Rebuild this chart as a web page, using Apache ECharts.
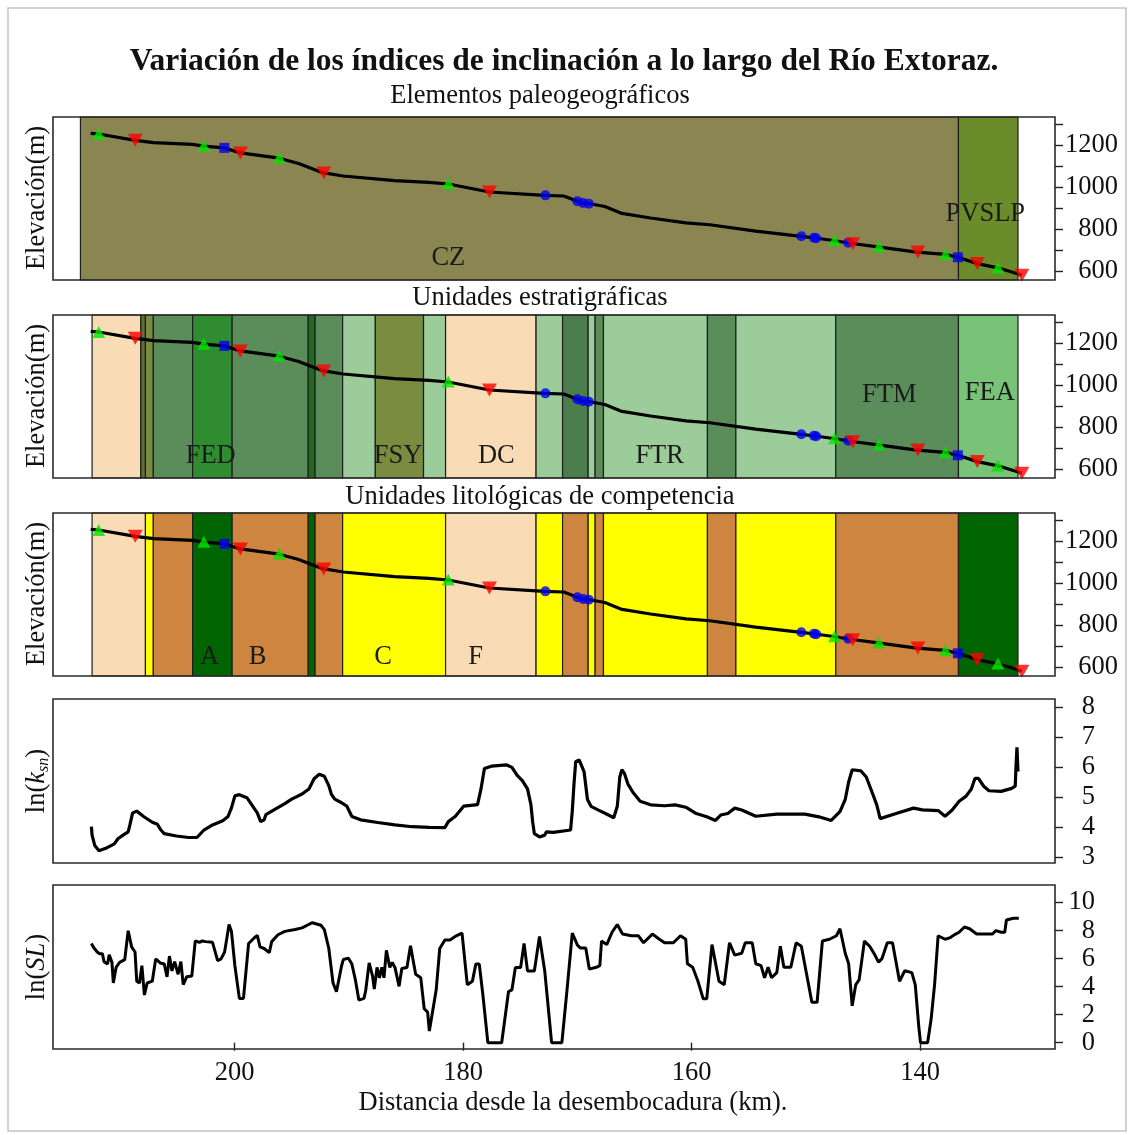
<!DOCTYPE html>
<html><head><meta charset="utf-8">
<script src="https://cdn.jsdelivr.net/npm/echarts@6.0.0/dist/echarts.min.js"></script>
<style>html,body{margin:0;padding:0;background:#fff}#c{width:1130px;height:1135px}</style>
</head><body><div id="c"></div>
<script>
// ---------- DATA ----------
const xTicks = [200, 180, 160, 140];
const elevTicks = [600, 700, 800, 900, 1000, 1100, 1200, 1300];
const elevLabels = [600, 800, 1000, 1200];
const ksnTicks = [3, 4, 5, 6, 7, 8];
const slTicks = [0, 2, 4, 6, 8, 10];

// river long profile [km, elevation m]
const profile = [
 [212.6,1255],[211.9,1252],[208.7,1222],[207.1,1211],[203.7,1203],[202.7,1194],[200.9,1186],
 [199.5,1162],[196.1,1137],[194.4,1112],[192.3,1068],[190.5,1052],[186.0,1030],[183.0,1022],
 [181.3,1014],[177.7,976],[172.9,960],[171.2,957],[170.0,932],[169.7,924],[168.8,919],
 [167.6,907],[166.1,874],[163.6,852],[160.5,829],[158.4,820],[154.4,790],[150.4,765],
 [149.2,757],[147.6,745],[146.1,732],[143.7,715],[140.3,690],[137.8,679],[136.7,665],
 [135.0,635],[133.2,615],[131.7,590],[131.1,581]
];
// knickpoint markers [km, elevation m]
const greenUp = [[211.9,1252],[202.7,1196],[196.1,1140],[181.3,1016],[147.5,746],[143.6,716],[137.8,680],[133.2,616]];
const redDown = [[208.7,1222],[199.5,1162],[192.2,1066],[177.7,976],[145.9,730],[140.2,690],[135.0,635],[131.1,580]];
const blueCircle = [[172.8,960],[170.0,932],[169.5,924],[169.0,920],[150.4,765],[149.3,758],[149.1,756],[146.3,734]];
const blueSquare = [[200.9,1186],[136.7,665]];

// ln(ksn) [km, value]
const ksn = [
 [212.54,4.01],[212.48,3.73],[212.24,3.38],[211.88,3.21],[211.28,3.29],[210.53,3.44],[210.22,3.61],[209.77,3.73],
 [209.32,3.84],[209.17,4.07],[208.93,4.47],[208.57,4.53],[207.97,4.35],[207.21,4.16],[206.76,4.09],[206.46,3.90],
 [206.16,3.78],[205.10,3.70],[204.05,3.65],[203.30,3.65],[202.69,3.90],[201.94,4.07],[201.04,4.21],[200.58,4.35],
 [200.28,4.64],[199.98,5.04],[199.59,5.08],[198.93,4.98],[198.32,4.64],[198.02,4.47],[197.72,4.18],[197.42,4.24],
 [197.27,4.41],[196.52,4.58],[195.61,4.78],[195.01,4.93],[194.10,5.10],[193.50,5.27],[193.05,5.61],[192.60,5.76],
 [192.15,5.69],[191.76,5.38],[191.54,5.10],[191.24,4.93],[190.64,4.81],[190.19,4.70],[189.74,4.35],[188.98,4.24],
 [187.48,4.15],[185.97,4.07],[184.47,4.01],[182.96,3.99],[181.60,3.98],[181.30,4.18],[180.70,4.35],[179.94,4.70],
 [178.74,4.75],[178.44,5.27],[178.29,5.61],[178.14,5.95],[177.53,6.03],[176.18,6.07],[175.73,5.99],[175.27,5.72],
 [174.82,5.55],[174.37,5.27],[174.07,4.75],[173.92,4.18],[173.77,3.78],[173.32,3.67],[172.86,3.73],[172.71,3.84],
 [172.11,3.82],[170.60,3.90],[170.45,4.53],[170.30,5.44],[170.15,6.18],[169.85,6.24],[169.42,5.85],[169.12,4.92],
 [168.81,4.69],[168.20,4.57],[167.28,4.40],[166.82,4.31],[166.51,4.69],[166.29,5.67],[166.11,5.91],[165.89,5.79],
 [165.59,5.44],[165.13,5.15],[164.51,4.86],[163.59,4.74],[162.37,4.71],[161.45,4.74],[160.52,4.66],[159.60,4.45],
 [158.68,4.34],[157.92,4.22],[157.46,4.40],[156.84,4.45],[156.23,4.63],[155.62,4.57],[154.39,4.36],[152.55,4.43],
 [150.09,4.43],[148.86,4.34],[147.79,4.22],[147.02,4.51],[146.56,4.92],[146.26,5.50],[145.95,5.91],[145.18,5.87],
 [144.72,5.67],[144.26,5.21],[143.80,4.74],[143.50,4.28],[142.11,4.45],[140.58,4.63],[139.81,4.57],[138.43,4.55],
 [137.82,4.36],[137.20,4.57],[136.59,4.86],[135.98,5.03],[135.52,5.27],[135.21,5.62],[134.90,5.62],[134.44,5.36],
 [133.98,5.21],[132.91,5.19],[131.99,5.29],[131.68,5.36],[131.62,5.97],[131.53,6.66],[131.44,5.85]
];

// ln(SL) [km, value]
const sl = [
 [212.54,7.08],[212.33,6.77],[212.03,6.47],[211.82,6.35],[211.58,6.35],[211.43,5.78],[211.13,5.61],[210.98,6.27],
 [210.74,5.73],[210.62,4.26],[210.38,5.37],[210.07,5.73],[209.62,5.93],[209.32,7.99],[209.02,6.84],[208.72,6.47],
 [208.57,4.39],[208.33,4.26],[208.12,5.49],[207.90,3.40],[207.66,4.26],[207.21,4.39],[206.91,5.98],[206.52,5.69],
 [206.16,5.61],[205.92,4.70],[205.71,6.18],[205.49,5.12],[205.25,5.78],[204.95,4.88],[204.71,5.78],[204.50,4.14],
 [204.20,4.70],[203.75,4.75],[203.45,7.26],[203.08,7.16],[202.84,7.26],[202.54,7.21],[201.94,7.16],[201.49,5.86],
 [201.19,5.98],[200.88,6.47],[200.49,8.43],[200.28,7.94],[199.98,5.49],[199.59,3.16],[199.23,3.16],[198.78,7.08],
 [198.32,7.45],[198.02,7.65],[197.78,6.84],[197.42,6.72],[196.97,6.42],[196.76,7.21],[196.21,7.70],[195.61,7.94],
 [194.71,8.07],[194.10,8.19],[193.65,8.38],[193.20,8.56],[192.45,8.38],[192.15,8.07],[191.76,6.72],[191.39,4.26],
 [191.09,3.64],[190.64,5.49],[190.49,5.93],[190.04,6.03],[189.74,5.61],[189.44,4.51],[189.13,3.04],[188.68,3.16],
 [188.53,3.72],[188.23,5.69],[187.93,4.75],[187.78,3.82],[187.54,5.37],[187.33,4.63],[187.12,5.37],[186.93,4.63],
 [186.72,6.59],[186.42,5.37],[186.21,5.73],[185.97,5.37],[185.61,4.02],[185.37,5.29],[184.92,5.37],[184.61,6.91],
 [184.16,4.88],[183.71,4.63],[183.41,2.42],[183.11,2.18],[182.96,0.83],[182.66,2.30],[182.36,3.77],[182.05,6.72],
 [181.60,7.33],[181.15,7.33],[180.70,7.58],[180.10,7.82],[179.64,4.14],[179.19,4.39],[178.89,5.61],[178.59,5.61],
 [178.29,3.53],[177.84,0],[176.63,0],[176.03,3.65],[175.73,3.77],[175.43,5.37],[174.97,5.37],[174.67,7.08],
 [174.37,5.12],[173.77,5.12],[173.32,7.58],[172.86,5.12],[172.26,0],[171.36,0],[170.91,3.77],[170.45,7.82],
 [170.00,6.96],[169.73,6.75],[169.27,6.75],[168.96,5.25],[168.35,5.38],[168.04,5.50],[167.89,7.25],[167.43,7.00],
 [166.97,7.88],[166.51,8.43],[166.05,7.75],[165.28,7.63],[164.67,7.63],[164.21,7.13],[163.44,7.75],[162.83,7.38],
 [162.37,7.13],[161.60,7.13],[160.98,7.63],[160.52,7.38],[160.37,5.63],[159.91,5.38],[159.45,4.38],[158.99,3.13],
 [158.68,3.13],[158.22,7.00],[157.61,4.38],[157.15,4.13],[156.69,7.13],[156.23,6.25],[155.62,6.38],[155.31,7.13],
 [154.70,7.13],[154.39,5.63],[153.93,5.50],[153.62,4.63],[153.31,5.38],[153.01,4.63],[152.55,5.00],[152.24,6.88],
 [151.93,5.38],[151.32,5.38],[150.86,7.13],[150.40,6.88],[149.94,4.88],[149.48,2.88],[149.02,2.88],[148.56,7.25],
 [147.94,7.38],[147.33,7.63],[147.02,8.13],[146.56,6.38],[146.26,5.63],[145.95,2.63],[145.64,4.13],[145.34,4.50],
 [144.88,7.25],[144.42,6.88],[143.96,6.25],[143.65,5.75],[143.34,6.00],[142.88,7.13],[142.42,7.13],[141.81,4.38],
 [141.35,5.13],[140.73,5.00],[140.43,4.13],[140.12,1.13],[139.97,0],[139.35,0],[139.05,1.63],[138.74,4.13],
 [138.43,7.63],[137.82,7.38],[137.36,7.50],[136.90,7.75],[136.59,7.88],[136.13,8.25],[135.67,8.13],[135.06,7.75],
 [134.14,7.75],[133.67,7.75],[133.37,8.00],[132.91,7.88],[132.60,7.88],[132.45,8.75],[131.84,8.88],[131.37,8.88]
];

// background units [from km, to km, unit code]
const paleoBands = [[213.5,136.65,'CZ'],[136.65,131.44,'PVSLP']];
const stratBands = [
 [212.48,208.21,'pe'],[208.21,207.81,'od'],[207.81,207.12,'ol'],[207.12,203.68,'mg'],[203.68,200.22,'gr'],
 [200.22,193.56,'mg'],[193.56,192.96,'dg'],[192.96,190.55,'mg'],[190.55,187.69,'lg'],[187.69,183.47,'ol'],
 [183.47,181.54,'lg'],[181.54,173.62,'pe'],[173.62,171.30,'lg'],[171.30,169.06,'md'],[169.06,168.45,'lg'],
 [168.45,167.72,'mg'],[167.72,158.62,'lg'],[158.62,156.13,'mg'],[156.13,147.39,'lg'],[147.39,136.65,'mg'],
 [136.65,131.44,'fe']
];
const lithoBands = [
 [212.48,207.81,'pe'],[207.81,207.12,'ye'],[207.12,203.68,'br'],[203.68,200.22,'dg'],[200.22,193.56,'br'],
 [193.56,192.96,'dg'],[192.96,190.55,'br'],[190.55,181.54,'ye'],[181.54,173.62,'pe'],[173.62,171.30,'ye'],
 [171.30,169.06,'br'],[169.06,168.45,'ye'],[168.45,167.72,'br'],[167.72,158.62,'ye'],[158.62,156.13,'br'],
 [156.13,147.39,'ye'],[147.39,136.65,'br'],[136.65,131.44,'dg']
];
// unit names [text, km, elevation m]
const paleoNames = [['CZ',181.3,662],['PVSLP',134.3,870]];
const stratNames = [['FED',202.1,662],['FSY',185.7,662],['DC',177.1,662],['FTR',162.8,662],['FTM',142.7,952],['FEA',133.9,960]];
const lithoNames = [['A',202.2,645],['B',198.0,645],['C',187.0,645],['F',178.9,645]];

// ---------- STYLE ----------
const FONT = '"Liberation Serif", "Times New Roman", serif';
const FS = 26.5;
const paleoColors = {CZ:'#8b8651', PVSLP:'#6b8c2a'};
const stratColors = {pe:'#f9dcb5', od:'#5f6f35', ol:'#7a8c40', mg:'#5a8d5a', gr:'#2f8c30', dg:'#1f6b20',
  lg:'#9ccc99', md:'#4b7d4d', fe:'#79c378'};
const lithoColors = {pe:'#f9dcb5', ye:'#ffff00', br:'#cd853f', dg:'#006400'};

const grids = [
  {top:117, height:163}, {top:315, height:163}, {top:513, height:163},
  {top:699, height:164}, {top:885, height:164}
].map(g => Object.assign({left:53, width:1002, show:true, z:10, borderColor:'#2a2a2a', borderWidth:1.6,
  backgroundColor:'transparent'}, g));

const yRanges = [[557,1333],[557,1333],[557,1333],[2.8,8.27],[-0.45,11.25]];
const yTickSets = [elevTicks, elevTicks, elevTicks, ksnTicks, slTicks];
const yLabelSets = [elevLabels, elevLabels, elevLabels, ksnTicks, slTicks];
const yMargins = [63, 63, 63, 40, 40];

const xAxes = grids.map((g, i) => ({
  gridIndex:i, type:'value', min:128.2, max:215.9, inverse:true, show: i === 4,
  axisLine:{show:false}, splitLine:{show:false},
  axisTick:{show:true, length:8, customValues:xTicks, lineStyle:{color:'#222', width:1.4}},
  axisLabel:{show:true, customValues:xTicks, margin:11, fontSize:FS, fontFamily:FONT, color:'#111',
    formatter:v => String(v)}
}));
const yAxes = grids.map((g, i) => ({
  gridIndex:i, type:'value', position:'right', min:yRanges[i][0], max:yRanges[i][1],
  axisLine:{show:false}, splitLine:{show:false},
  axisTick:{show:true, length:8, customValues:yTickSets[i], lineStyle:{color:'#222', width:1.4}},
  axisLabel:{show:true, customValues:yLabelSets[i], margin:yMargins[i], align:'right',
    fontSize:FS, fontFamily:FONT, color:'#111', formatter:v => String(v)}
}));

const series = [];
function addBands(gi, bands, colors) {
  series.push({
    type:'custom', xAxisIndex:gi, yAxisIndex:gi, z:1, silent:true,
    data: bands.map(b => [b[0], b[1]]), encode:{x:[0,1]},
    renderItem(params, api) {
      const cs = params.coordSys;
      const a = api.coord([api.value(0), yRanges[gi][0]])[0];
      const b = api.coord([api.value(1), yRanges[gi][0]])[0];
      return {type:'rect', shape:{x:Math.min(a,b), y:cs.y, width:Math.abs(b-a), height:cs.height},
        style:{fill:colors[bands[params.dataIndex][2]], stroke:'#1e1e1e', lineWidth:1.2}};
    }
  });
}
function addNames(gi, names) {
  series.push({
    type:'custom', xAxisIndex:gi, yAxisIndex:gi, z:2, silent:true,
    data: names.map(n => [n[1], n[2]]), encode:{x:0, y:1},
    renderItem(params, api) {
      const p = api.coord([api.value(0), api.value(1)]);
      return {type:'text', x:p[0], y:p[1], style:{text:names[params.dataIndex][0], fill:'#1a1a1a',
        fontSize:FS, fontFamily:FONT, align:'center', verticalAlign:'middle'}};
    }
  });
}
function addProfile(gi) {
  series.push({type:'line', xAxisIndex:gi, yAxisIndex:gi, data:profile, symbol:'none', z:3,
    lineStyle:{color:'#000', width:3.2}});
  series.push({type:'scatter', xAxisIndex:gi, yAxisIndex:gi, data:blueCircle, symbol:'circle', symbolSize:10, z:4,
    itemStyle:{color:'#0000ee'}});
  series.push({type:'scatter', xAxisIndex:gi, yAxisIndex:gi, data:blueSquare, symbol:'rect', symbolSize:10, z:4,
    itemStyle:{color:'#0000ee'}});
  series.push({type:'scatter', xAxisIndex:gi, yAxisIndex:gi, data:greenUp, symbol:'triangle', symbolSize:[13,12], z:4,
    itemStyle:{color:'#00e600'}});
  series.push({type:'scatter', xAxisIndex:gi, yAxisIndex:gi, data:redDown, symbol:'triangle', symbolRotate:180,
    symbolSize:[15,13], z:5, itemStyle:{color:'#ff0000'}});
}
addBands(0, paleoBands, paleoColors); addNames(0, paleoNames); addProfile(0);
addBands(1, stratBands, stratColors); addNames(1, stratNames); addProfile(1);
addBands(2, lithoBands, lithoColors); addNames(2, lithoNames); addProfile(2);
series.push({type:'line', xAxisIndex:3, yAxisIndex:3, data:ksn, symbol:'none', z:3, lineStyle:{color:'#000', width:3.2}});
series.push({type:'line', xAxisIndex:4, yAxisIndex:4, data:sl, symbol:'none', z:3, lineStyle:{color:'#000', width:3}});

function vText(txt, y) {
  return {type:'text', x:37, y:y, rotation:Math.PI/2,
    style:{text:txt, fontSize:FS, fontFamily:FONT, fill:'#111', align:'center', verticalAlign:'middle'}};
}
function hText(txt, x, y, size, weight) {
  return {type:'text', x:x, y:y, style:{text:txt, fontSize:size, fontWeight:weight || 'normal', fontFamily:FONT,
    fill:'#111', align:'center', verticalAlign:'middle'}};
}
const graphic = [
  {type:'rect', shape:{x:8, y:8, width:1118, height:1123}, style:{fill:'none', stroke:'#c4c4c4', lineWidth:1.5}},
  hText('Variación de los índices de inclinación a lo largo del Río Extoraz.', 564, 62, 31.5, 'bold'),
  hText('Elementos paleogeográficos', 540, 96, FS),
  hText('Unidades estratigráficas', 540, 298, FS),
  hText('Unidades litológicas de competencia', 540, 497, FS),
  hText('Distancia desde la desembocadura (km).', 573, 1103, FS),
  vText('Elevación(m)', 198), vText('Elevación(m)', 396), vText('Elevación(m)', 594),
  {type:'text', x:37, y:781, rotation:Math.PI/2, style:{
    text:'{n|ln(}{k|k}{s|sn}{n|)}', fontSize:FS, fontFamily:FONT, fill:'#111', align:'center', verticalAlign:'middle',
    rich:{n:{fontSize:FS, fontFamily:FONT, fill:'#111'}, k:{fontSize:FS, fontStyle:'italic', fontFamily:FONT, fill:'#111'},
      s:{fontSize:16, fontStyle:'italic', fontFamily:FONT, fill:'#111', padding:[13,0,0,0]}}}},
  {type:'text', x:37, y:967, rotation:Math.PI/2, style:{
    text:'{n|ln(}{i|SL}{n|)}', fontSize:FS, fontFamily:FONT, fill:'#111', align:'center', verticalAlign:'middle',
    rich:{n:{fontSize:FS, fontFamily:FONT, fill:'#111'}, i:{fontSize:FS, fontStyle:'italic', fontFamily:FONT, fill:'#111'}}}}
];

const chart = echarts.init(document.getElementById('c'), null, {renderer:'canvas'});
chart.setOption({
  animation:false, backgroundColor:'#fff',
  grid:grids, xAxis:xAxes, yAxis:yAxes, series:series, graphic:graphic
});
</script></body></html>
